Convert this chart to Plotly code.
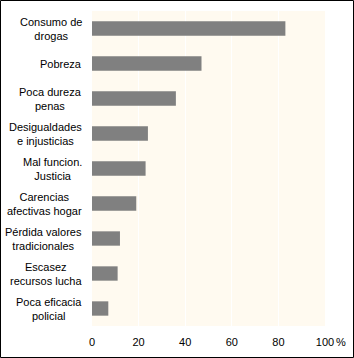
import plotly.graph_objects as go

categories = ["Consumo de<br>drogas", "Pobreza", "Poca dureza<br>penas",
              "Desigualdades<br>e injusticias", "Mal funcion.<br>Justicia",
              "Carencias<br>afectivas hogar", "Pérdida valores<br>tradicionales",
              "Escasez<br>recursos lucha", "Poca eficacia<br>policial"]
values = [83, 47, 36, 24, 23, 19, 12, 11, 7]
tick_vals = [0, 20, 40, 60, 80, 100]
tick_text = ["0", "20", "40", "60", "80", "100"]

W, H = 354, 358
L, R, T, B = 92, 29, 11, 32
pw, ph = W - L - R, H - T - B
FONT = "Liberation Sans, Arial"

fig = go.Figure(go.Bar(
    x=values, y=categories, orientation="h",
    marker=dict(color="#808080", line=dict(width=0)),
    hoverinfo="skip",
))

annotations = []
for c in categories:
    annotations.append(dict(
        x=0, xref="paper", y=c, yref="y", text=c, showarrow=False,
        xanchor="right", align="center", xshift=-8,
        font=dict(family=FONT, size=11, color="black"),
    ))
annotations.append(dict(
    x=100, xref="x", y=-(341.5 - (H - B)) / ph, yref="paper", text="%",
    showarrow=False, xanchor="left", yanchor="middle", xshift=9,
    font=dict(family=FONT, size=11, color="black"),
))

fig.update_layout(
    width=W, height=H,
    margin=dict(l=L, r=R, t=T, b=B),
    paper_bgcolor="white",
    plot_bgcolor="#FFFAF0",
    bargap=0.59,
    showlegend=False,
    font=dict(family=FONT, size=11, color="black"),
    xaxis=dict(range=[0, 100], tickvals=tick_vals, ticktext=tick_text,
               showgrid=True, gridcolor="white", gridwidth=1,
               zeroline=False, showline=False, ticks="outside", ticklen=6,
               tickcolor="rgba(0,0,0,0)", tickfont=dict(size=11)),
    yaxis=dict(autorange="reversed", showticklabels=False, showgrid=False,
               zeroline=False, showline=False, ticks=""),
    annotations=annotations,
    shapes=[dict(type="rect", xref="paper", yref="paper",
                 x0=(0.5 - L) / pw, x1=(W - 0.5 - L) / pw,
                 y0=-(B - 0.5) / ph, y1=(H - B - 0.5) / ph,
                 line=dict(color="black", width=1), layer="above")],
)

fig.write_html("out.html")
